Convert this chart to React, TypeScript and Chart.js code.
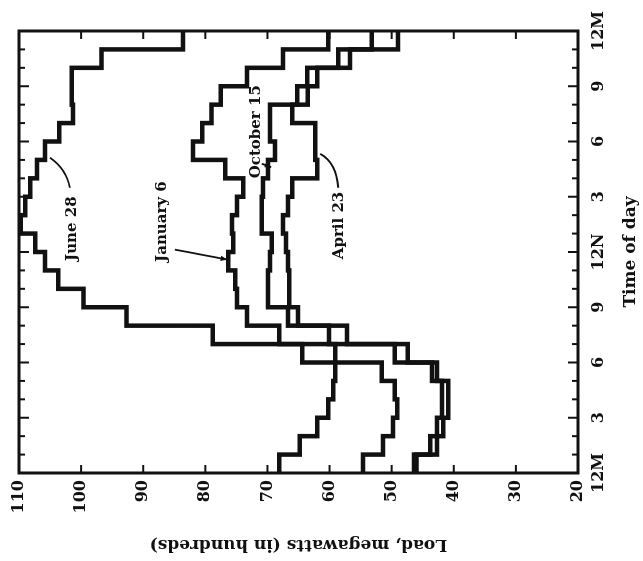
import React, { useEffect, useRef } from "react";
import { Chart, registerables } from "chart.js";

Chart.register(...registerables);

// ---- data (hour-by-hour load, hundreds of MW; value i holds from hour i to i+1) ----
const hourTicks = [0, 3, 6, 9, 12, 15, 18, 21, 24];
const hourTickLabels = ["12M", "3", "6", "9", "12N", "3", "6", "9", "12M"];
const loadTicks = [20, 30, 40, 50, 60, 70, 80, 90, 100, 110];

const june28 = [68.1, 64.8, 62.0, 60.2, 59.4, 59.1, 59.1, 78.8, 92.7, 99.6, 103.7, 105.8, 107.4, 109.7, 109.0, 108.2, 107.1, 105.8, 103.5, 101.3, 101.5, 101.5, 96.7, 83.6];
const january6 = [54.6, 51.4, 49.8, 49.1, 49.5, 51.6, 64.4, 68.1, 73.3, 74.9, 75.2, 76.3, 75.5, 75.7, 74.9, 73.9, 76.8, 82.0, 80.5, 79.0, 77.5, 73.3, 67.5, 60.2];
const october15 = [46.4, 43.8, 42.7, 41.9, 41.9, 43.5, 49.5, 60.1, 66.7, 69.9, 69.9, 69.6, 69.3, 70.9, 70.9, 70.7, 69.9, 68.8, 69.6, 69.6, 65.2, 63.6, 58.6, 53.2];
const april23 = [46.0, 42.7, 41.7, 40.9, 40.9, 42.7, 47.4, 57.2, 65.1, 66.5, 66.5, 66.7, 67.0, 67.5, 66.7, 66.0, 62.0, 62.3, 62.3, 66.0, 63.5, 62.0, 56.7, 49.0];

const seriesNames = ["June 28", "January 6", "October 15", "April 23"];
const seriesValues = [june28, january6, october15, april23];

// ---- annotation placement (in data units: hour, load) ----
const noteAt: [number, number][] = [
  [13.27, 101.5],
  [13.65, 87.0],
  [18.53, 71.8],
  [13.44, 58.5],
];
const noteArrows = [
  { from: [15.49, 101.8], via: [16.52, 102.4], to: [17.12, 105.0], head: false },
  { from: [12.13, 84.9], via: [11.86, 80.7], to: [11.59, 76.5], head: true },
  { from: [16.79, 70.9], via: [16.7, 70.1], to: [16.6, 69.4], head: true },
  { from: [15.49, 58.6], via: [16.85, 58.9], to: [17.33, 61.5], head: false },
];

const INK = "#111";
const FONT = "DejaVu Serif";

const frameAndNotes = {
  id: "frameAndNotes",
  afterDatasetsDraw(chart: any) {
    const { ctx, chartArea: a, scales } = chart;
    const xs = scales.x;
    const ys = scales.y;
    const line = (x1: number, y1: number, x2: number, y2: number) => {
      ctx.beginPath();
      ctx.moveTo(x1, y1);
      ctx.lineTo(x2, y2);
      ctx.stroke();
    };
    ctx.save();
    ctx.strokeStyle = INK;
    ctx.fillStyle = INK;
    ctx.lineWidth = 3;
    ctx.strokeRect(a.left, a.top, a.right - a.left, a.bottom - a.top);
    ctx.lineWidth = 2;
    for (let h = 1; h < 24; h++) {
      const px = xs.getPixelForValue(h);
      const len = h % 3 === 0 ? 10 : 6;
      line(px, a.top, px, a.top + len);
      line(px, a.bottom, px, a.bottom - len);
    }
    for (const v of loadTicks) {
      if (v <= 20 || v >= 110) continue;
      const py = ys.getPixelForValue(v);
      line(a.left, py, a.left + 8, py);
      line(a.right, py, a.right - 8, py);
    }
    // labels
    ctx.font = `bold 15px '${FONT}'`;
    ctx.textAlign = "center";
    ctx.textBaseline = "middle";
    seriesNames.forEach((name, i) => {
      ctx.fillText(name, xs.getPixelForValue(noteAt[i][0]), ys.getPixelForValue(noteAt[i][1]));
    });
    // arrows
    ctx.lineWidth = 1.8;
    for (const ar of noteArrows) {
      const fx = xs.getPixelForValue(ar.from[0]);
      const fy = ys.getPixelForValue(ar.from[1]);
      const cx = xs.getPixelForValue(ar.via[0]);
      const cy = ys.getPixelForValue(ar.via[1]);
      const tx = xs.getPixelForValue(ar.to[0]);
      const ty = ys.getPixelForValue(ar.to[1]);
      ctx.beginPath();
      ctx.moveTo(fx, fy);
      ctx.quadraticCurveTo(cx, cy, tx, ty);
      ctx.stroke();
      if (ar.head) {
        const ang = Math.atan2(ty - cy, tx - cx);
        const s = 7;
        ctx.beginPath();
        ctx.moveTo(tx, ty);
        ctx.lineTo(tx - s * Math.cos(ang - 0.4), ty - s * Math.sin(ang - 0.4));
        ctx.lineTo(tx - s * Math.cos(ang + 0.4), ty - s * Math.sin(ang + 0.4));
        ctx.closePath();
        ctx.fill();
      }
    }
    ctx.restore();
  },
};

export default function App() {
  const ref = useRef<HTMLCanvasElement>(null);
  useEffect(() => {
    const canvas = ref.current;
    if (!canvas) return;
    const toSteps = (vals: number[]) => [
      ...vals.map((v, h) => ({ x: h, y: v })),
      { x: vals.length, y: vals[vals.length - 1] },
    ];
    const chart = new Chart(canvas, {
      type: "line",
      data: {
        datasets: seriesValues.map((vals, i) => ({
          label: seriesNames[i],
          data: toSteps(vals),
          borderColor: INK,
          backgroundColor: INK,
          borderWidth: 4.5,
          pointRadius: 0,
          stepped: "before" as const,
          fill: false,
          tension: 0,
        })),
      },
      options: {
        animation: false,
        responsive: false,
        devicePixelRatio: 1,
        layout: { padding: { top: 19, right: 30, left: 0, bottom: 0 } },
        plugins: { legend: { display: false }, tooltip: { enabled: false } },
        scales: {
          x: {
            type: "linear",
            min: 0,
            max: 24,
            grid: { display: false, drawTicks: false },
            border: { display: false },
            ticks: {
              stepSize: 3,
              autoSkip: false,
              maxRotation: 0,
              padding: 11,
              color: INK,
              font: { family: FONT, weight: "bold", size: 16 },
              callback: (v: any) => {
                const k = hourTicks.indexOf(Number(v));
                return k >= 0 ? hourTickLabels[k] : "";
              },
            },
            title: {
              display: true,
              text: "Time of day",
              color: INK,
              font: { family: FONT, weight: "bold", size: 17 },
              padding: { top: 0, bottom: 2 },
            },
            afterFit: (s: any) => {
              s.height = 65;
            },
          },
          y: {
            type: "linear",
            min: 20,
            max: 110,
            grid: { display: false, drawTicks: false },
            border: { display: false },
            ticks: {
              stepSize: 10,
              autoSkip: false,
              padding: 7,
              color: INK,
              font: { family: FONT, weight: "bold", size: 16 },
            },
            title: {
              display: true,
              text: "Load, megawatts (in hundreds)",
              color: INK,
              font: { family: FONT, weight: "bold", size: 17 },
              padding: { top: 6, bottom: 0 },
            },
            afterFit: (s: any) => {
              s.width = 88;
            },
          },
        },
      },
      plugins: [frameAndNotes],
    } as any);
    return () => chart.destroy();
  }, []);

  return (
    <div
      style={{
        position: "absolute",
        left: 0,
        top: 0,
        width: 643,
        height: 561,
        overflow: "hidden",
        background: "#fff",
      }}
    >
      <canvas
        ref={ref}
        width={561}
        height={643}
        style={{
          position: "absolute",
          left: 41,
          top: -41,
          width: 561,
          height: 643,
          transform: "rotate(-90deg)",
        }}
      />
    </div>
  );
}
